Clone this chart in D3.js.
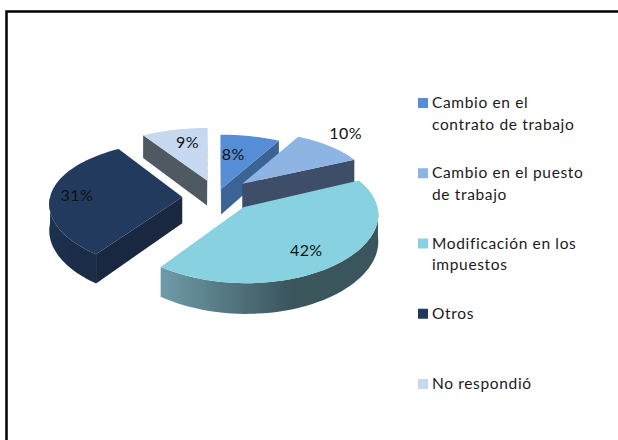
<!DOCTYPE html>
<html><head><meta charset="utf-8">
<script src="https://cdn.jsdelivr.net/npm/d3@7"></script>
<style>html,body{margin:0;padding:0;background:#fff}svg{display:block}</style></head>
<body><svg width="618" height="440"></svg>
<script>
const categories=[["Cambio en el","contrato de trabajo"],["Cambio en el puesto","de trabajo"],["Modificación en los","impuestos"],["Otros"],["No respondió"]];
const values=[8,10,42,31,9];
const explode=[.13,.30,.285,.233,.26];
const explodeTurn=[14,2,-13,-6,6];
const labelRadius=[.62,1.3,.74,.8,.72];
const labelTurn=[-5,-4,4,0,3];
const topColors=["#558ed5","#8eb4e3","#87d1e0","#223a5e","#c6d9f1"];
const faceColors=["#3a6496","#3f4e68","#3a565d","#192840","#4f5962"];
const outerLeft=["#3a6496","#3f4e68","#6f9ba8","#1d3250","#4f5962"];
const outerRight=["#3a6496","#3f4e68","#3a555c","#1a2c46","#4f5962"];

const svg=d3.select("svg");
const cx=213,cy=196,rx=132,ry=63,kx=.09,ky=.13,depth=26;
const proj=(u,v,h=0)=>{const wx=1/(1-kx*v),wy=1/(1-ky*v);return [cx+u*rx*wx,cy+v*ry*wy+h*wy];};
const pie=d3.pie().sort(null).value(d=>d);
const arcs=pie(values);
const defs=svg.append("defs");

svg.append("path").attr("d","M6.5,440V11.5H618").attr("fill","none").attr("stroke","#000").attr("stroke-width",2.5);

const line=d3.line();
const order=[4,0,1,3,2];
order.forEach(i=>{
  const a=arcs[i],mid=(a.startAngle+a.endAngle)/2,e=explode[i];
  const dir=mid+explodeTurn[i]*Math.PI/180;
  const ox=Math.sin(dir)*e,oy=-Math.cos(dir)*e;
  const pt=(t,r=1,h=0)=>proj(ox+Math.sin(t)*r,oy-Math.cos(t)*r,h);
  const n=60,ts=d3.range(n+1).map(j=>a.startAngle+(a.endAngle-a.startAngle)*j/n);
  const g=svg.append("g");
  // radial faces, drawn only when facing the viewer
  [a.startAngle,a.endAngle].forEach(t=>{
    const A=pt(t,0),B=pt(t,1);
    const c=pt(mid,.5);
    const yEdge=A[1]+(B[1]-A[1])*((c[0]-A[0])/((B[0]-A[0])||1e-6));
    if(c[1]<yEdge)
      g.append("path").attr("d",line([A,B,pt(t,1,depth),pt(t,0,depth)])+"Z").attr("fill",faceColors[i]);
  });
  // outer wall, near half only
  const vis=ts.filter(t=>Math.cos(t)<0);
  if(vis.length>1){
    const id="wall"+i;
    const ps=vis.map(t=>pt(t));
    const x0=d3.min(ps,p=>p[0]),x1=d3.max(ps,p=>p[0]);
    const gr=defs.append("linearGradient").attr("id",id).attr("gradientUnits","userSpaceOnUse")
      .attr("x1",x0).attr("x2",x1).attr("y1",0).attr("y2",0);
    gr.append("stop").attr("offset",0).attr("stop-color",outerLeft[i]);
    gr.append("stop").attr("offset",.6).attr("stop-color",outerRight[i]);
    g.append("path").attr("d",line(ps.concat(vis.slice().reverse().map(t=>pt(t,1,depth))))+"Z").attr("fill",`url(#${id})`);
  }
  // top surface
  g.append("path").attr("d",line([pt(a.startAngle,0)].concat(ts.map(t=>pt(t))))+"Z").attr("fill",topColors[i]);
  a.label=pt(mid+labelTurn[i]*Math.PI/180,labelRadius[i]);
});
// data labels on top
arcs.forEach((a,i)=>{
  svg.append("text").attr("x",a.label[0]).attr("y",a.label[1]).attr("dy","0.35em").attr("text-anchor","middle")
    .attr("font-family","Lato, 'Open Sans', sans-serif").attr("font-size",16).attr("letter-spacing",.4).attr("fill","#111").text(values[i]+"%");
});
// legend
const legendY=d3.scalePoint().domain(d3.range(categories.length)).range([108,389]);
categories.forEach((c,i)=>{
  const y=legendY(i);
  svg.append("rect").attr("x",418).attr("y",y-10).attr("width",10).attr("height",10).attr("fill",topColors[i]);
  c.forEach((s,j)=>svg.append("text").attr("x",432).attr("y",y+j*21.5)
    .attr("font-family","Lato, 'Open Sans', sans-serif").attr("font-size",15.5).attr("letter-spacing",.65).attr("fill","#1a1a1a").text(s));
});
</script></body></html>
